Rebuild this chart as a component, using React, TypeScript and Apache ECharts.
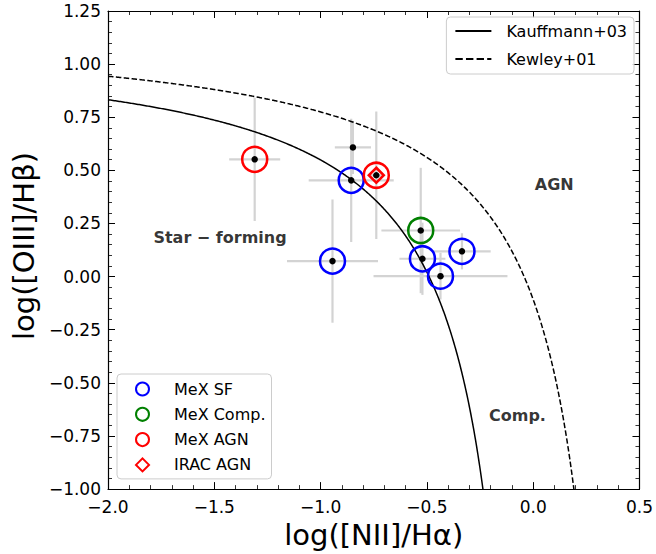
import React, { useEffect, useRef } from "react";
import * as echarts from "echarts";

// Emission-line ratios of the sample (BPT diagram)
const niiRatio = [-1.31, -0.848, -0.856, -0.738, -0.529, -0.521, -0.436, -0.335, -0.944];
const oiiiRatio = [0.552, 0.608, 0.453, 0.477, 0.217, 0.084, 0.002, 0.119, 0.073];
const niiErr = [0.12, 0.085, 0.2, 0.03, 0.185, 0.108, 0.315, 0.135, 0.214];
const oiiiErr = [0.29, 0.125, 0.29, 0.3, 0.295, 0.17, 0.11, 0.085, 0.29];
const mexClass = ["AGN", "none", "SF", "AGN", "Comp", "SF", "SF", "SF", "SF"];
const iracAgn = [false, false, false, true, false, false, false, false, false];

// Demarcation curves: y = a / (x - b) + c
const kauffmannCoef = { a: 0.61, b: 0.05, c: 1.13 };
const kewleyCoef = { a: 0.61, b: 0.47, c: 1.19 };

const xTickLabels = ["\u22122.0", "\u22121.5", "\u22121.0", "\u22120.5", "0.0", "0.5"];
const yTickLabels = [
  "\u22121.00", "\u22120.75", "\u22120.50", "\u22120.25", "0.00",
  "0.25", "0.50", "0.75", "1.00", "1.25",
];

const regionLabels = [
  { name: "Star \u2212 forming", x: -1.473, y: 0.184 },
  { name: "AGN", x: 0.099, y: 0.433 },
  { name: "Comp.", x: -0.074, y: -0.652 },
];

const X_MIN = -2, X_MAX = 0.5, X_STEP = 0.5;
const Y_MIN = -1, Y_MAX = 1.25, Y_STEP = 0.25;
const FONT = "DejaVu Sans";

function demarcation(coef: { a: number; b: number; c: number }) {
  // sample the curve from the left edge down to where it meets the bottom axis
  const xEnd = coef.b - coef.a / (coef.c - Y_MIN);
  const n = 600;
  const pts: number[][] = [];
  for (let i = 0; i <= n; i++) {
    const x = X_MIN + ((xEnd - X_MIN) * i) / n;
    pts.push([x, coef.a / (x - coef.b) + coef.c]);
  }
  return pts;
}

function pick(cls: string) {
  const out: number[][] = [];
  niiRatio.forEach((x, i) => {
    if (mexClass[i] === cls) out.push([x, oiiiRatio[i]]);
  });
  return out;
}

const hidden = { color: "rgba(0,0,0,0)", borderColor: "rgba(0,0,0,0)", borderWidth: 0, opacity: 0 };

export default function App() {
  const ref = useRef<HTMLDivElement>(null);

  useEffect(() => {
    if (!ref.current) return;
    document.documentElement.style.overflow = "hidden";
    document.body.style.margin = "0";
    document.body.style.overflow = "hidden";
    const chart = echarts.init(ref.current, undefined, { renderer: "svg", width: 656, height: 554 });

    const tickCommon = {
      axisLine: { show: true, onZero: false, lineStyle: { color: "#000", width: 1.2 } },
      axisTick: { show: true, inside: true, length: 7, lineStyle: { color: "#000", width: 1 } },
      minorTick: { show: true, splitNumber: 5, length: 4, lineStyle: { color: "#000", width: 0.8 } },
      splitLine: { show: false },
      minorSplitLine: { show: false },
    };

    const xAxisBase = { type: "value", min: X_MIN, max: X_MAX, interval: X_STEP, ...tickCommon };
    const yAxisBase = { type: "value", min: Y_MIN, max: Y_MAX, interval: Y_STEP, ...tickCommon };

    const circleStyle = (color: string) => ({
      color: "rgba(0,0,0,0)",
      borderColor: color,
      borderWidth: 2.5,
      opacity: 1,
    });

    const errData = niiRatio.map((x, i) => [x, oiiiRatio[i], niiErr[i], oiiiErr[i]]);
    const iracData = niiRatio
      .map((x, i) => [x, oiiiRatio[i]])
      .filter((_, i) => iracAgn[i]);

    chart.setOption({
      animation: false,
      backgroundColor: "#fff",
      textStyle: { fontFamily: FONT },
      grid: { left: 108, right: 12, top: 11, bottom: 64 },
      xAxis: [
        {
          ...xAxisBase,
          position: "bottom",
          name: "log([NII]/H\u03b1)",
          nameLocation: "middle",
          nameGap: 30,
          nameTextStyle: { fontFamily: FONT, fontSize: 29, color: "#000" },
          axisLabel: {
            show: true,
            margin: 9,
            fontFamily: FONT,
            fontSize: 17,
            color: "#000",
            formatter: (v: number) => xTickLabels[Math.round((v - X_MIN) / X_STEP)],
          },
        },
        { ...xAxisBase, position: "top", axisLabel: { show: false } },
      ],
      yAxis: [
        {
          ...yAxisBase,
          position: "left",
          name: "log([OIII]/H\u03b2)",
          nameLocation: "middle",
          nameGap: 64,
          nameTextStyle: { fontFamily: FONT, fontSize: 29, color: "#000", padding: [0, 0, 0, 8] },
          axisLabel: {
            show: true,
            margin: 7,
            fontFamily: FONT,
            fontSize: 17,
            color: "#000",
            formatter: (v: number) => yTickLabels[Math.round((v - Y_MIN) / Y_STEP)],
          },
        },
        { ...yAxisBase, position: "right", axisLabel: { show: false } },
      ],
      legend: [
        {
          orient: "vertical",
          right: 22,
          top: 17,
          padding: [6, 7, 7, 8],
          itemGap: 12,
          itemWidth: 36,
          itemHeight: 14,
          backgroundColor: "rgba(255,255,255,0.8)",
          borderColor: "#cccccc",
          borderWidth: 1,
          borderRadius: 4,
          textStyle: { fontFamily: FONT, fontSize: 16, color: "#000", padding: [0, 0, 0, 10] },
          data: [
            { name: "Kauffmann+03", itemStyle: hidden, lineStyle: { color: "#000", width: 2, type: "solid" } },
            { name: "Kewley+01", itemStyle: hidden, lineStyle: { color: "#000", width: 2, type: [7.4, 3.2] } },
          ],
        },
        {
          orient: "vertical",
          left: 117,
          top: 374,
          padding: [7, 6, 6, 18],
          itemGap: 9.3,
          itemWidth: 13,
          itemHeight: 13,
          backgroundColor: "rgba(255,255,255,0.8)",
          borderColor: "#cccccc",
          borderWidth: 1,
          borderRadius: 4,
          textStyle: { fontFamily: FONT, fontSize: 16, color: "#000", padding: [0, 0, 0, 20] },
          data: [
            { name: "MeX SF", icon: "circle", itemStyle: { color: "rgba(0,0,0,0)", borderColor: "#0000ff", borderWidth: 2, opacity: 1 } },
            { name: "MeX Comp.", icon: "circle", itemStyle: { color: "rgba(0,0,0,0)", borderColor: "#008000", borderWidth: 2, opacity: 1 } },
            { name: "MeX AGN", icon: "circle", itemStyle: { color: "rgba(0,0,0,0)", borderColor: "#ff0000", borderWidth: 2, opacity: 1 } },
            { name: "IRAC AGN", icon: "diamond", itemStyle: { color: "rgba(0,0,0,0)", borderColor: "#ff0000", borderWidth: 2, opacity: 1 } },
          ],
        },
      ],
      series: [
        {
          name: "Kauffmann+03",
          type: "line",
          data: demarcation(kauffmannCoef),
          showSymbol: false,
          symbol: "none",
          clip: true,
          z: 2,
          itemStyle: { color: "#000" },
          lineStyle: { color: "#000", width: 1.5, type: "solid" },
        },
        {
          name: "Kewley+01",
          type: "line",
          data: demarcation(kewleyCoef),
          showSymbol: false,
          symbol: "none",
          clip: true,
          z: 2,
          itemStyle: { color: "#000" },
          lineStyle: { color: "#000", width: 1.5, type: [5.5, 2.4] },
        },
        {
          name: "errors",
          type: "custom",
          z: 1,
          data: errData,
          encode: { x: 0, y: 1 },
          renderItem: (_params: any, api: any) => {
            const x = api.value(0), y = api.value(1);
            const xe = api.value(2), ye = api.value(3);
            const l = api.coord([x - xe, y]);
            const r = api.coord([x + xe, y]);
            const t = api.coord([x, y + ye]);
            const b = api.coord([x, y - ye]);
            const style = { stroke: "#d3d3d3", lineWidth: 2.2 };
            return {
              type: "group",
              children: [
                { type: "line", shape: { x1: l[0], y1: l[1], x2: r[0], y2: r[1] }, style },
                { type: "line", shape: { x1: t[0], y1: t[1], x2: b[0], y2: b[1] }, style },
              ],
            };
          },
        },
        {
          name: "MeX SF",
          type: "scatter",
          z: 3,
          symbol: "circle",
          symbolSize: 25,
          data: pick("SF"),
          itemStyle: circleStyle("#0000ff"),
        },
        {
          name: "MeX Comp.",
          type: "scatter",
          z: 3,
          symbol: "circle",
          symbolSize: 25,
          data: pick("Comp"),
          itemStyle: circleStyle("#008000"),
        },
        {
          name: "MeX AGN",
          type: "scatter",
          z: 3,
          symbol: "circle",
          symbolSize: 25,
          data: pick("AGN"),
          itemStyle: circleStyle("#ff0000"),
        },
        {
          name: "IRAC AGN",
          type: "scatter",
          z: 3,
          symbol: "diamond",
          symbolSize: 15,
          data: iracData,
          itemStyle: { color: "rgba(0,0,0,0)", borderColor: "#ff0000", borderWidth: 2.5, opacity: 1 },
        },
        {
          name: "points",
          type: "scatter",
          z: 4,
          symbol: "circle",
          symbolSize: 6.5,
          data: niiRatio.map((x, i) => [x, oiiiRatio[i]]),
          itemStyle: { color: "#000", opacity: 1 },
        },
        {
          name: "regions",
          type: "scatter",
          z: 5,
          symbolSize: 0,
          data: regionLabels.map((r) => ({ name: r.name, value: [r.x, r.y] })),
          itemStyle: { color: "rgba(0,0,0,0)" },
          label: {
            show: true,
            position: [0, 0],
            align: "center",
            verticalAlign: "middle",
            formatter: (p: any) => p.name,
            fontFamily: FONT,
            fontWeight: "bold",
            fontSize: 16,
            color: "#000",
          },
        },
      ],
    });

    return () => chart.dispose();
  }, []);

  return (
    <div
      ref={ref}
      style={{ position: "fixed", left: 0, top: 0, width: 656, height: 554, background: "#fff" }}
    />
  );
}
